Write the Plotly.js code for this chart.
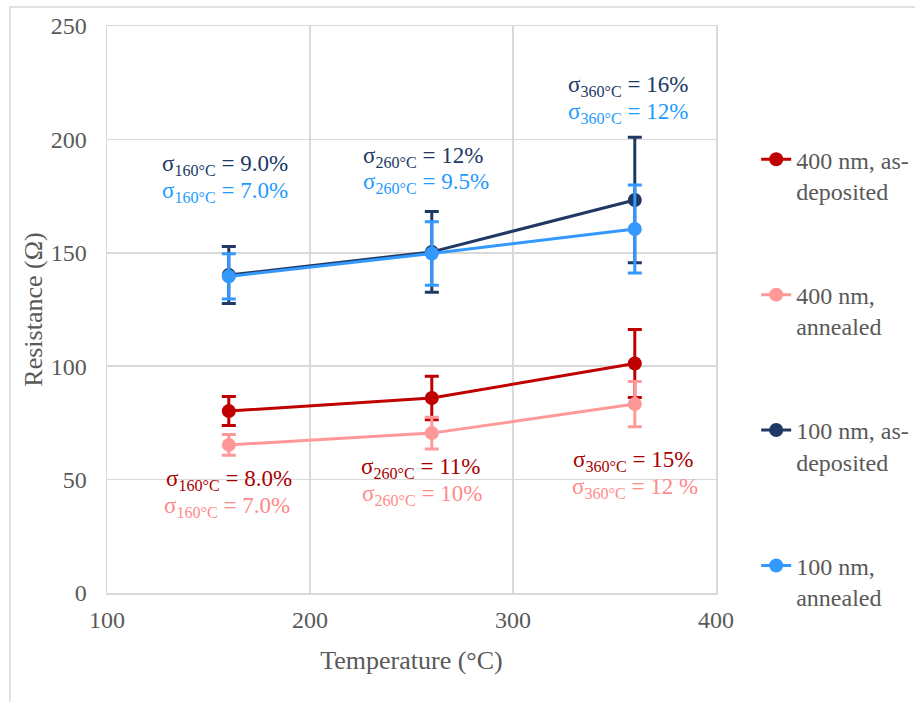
<!DOCTYPE html>
<html>
<head>
<meta charset="utf-8">
<script src="https://cdn.plot.ly/plotly-3.0.1.min.js"></script>
<style>html,body{margin:0;padding:0;background:#fff;}#chart{width:915px;height:702px;}</style>
</head>
<body>
<div id="chart"></div>
<script>
var temperatures = [160, 260, 360];

var names = ["400 nm, as-<br>deposited", "400 nm,<br>annealed", "100 nm, as-<br>deposited", "100 nm,<br>annealed"];

var r400asdep = [80.2, 86.0, 101.2];
var r400ann = [65.3, 70.5, 83.3];
var r100asdep = [140.2, 150.4, 173.3];
var r100ann = [139.6, 149.7, 160.5];

var e400asdep = [6.4, 9.6, 15.0];
var e400ann = [4.6, 7.0, 10.0];
var e100asdep = [12.6, 17.8, 27.7];
var e100ann = [10.0, 14.0, 19.4];

var sig400asdep = ["8.0%", "11%", "15%"];
var sig400ann = ["7.0%", "10%", "12 %"];
var sig100asdep = ["9.0%", "12%", "16%"];
var sig100ann = ["7.0%", "9.5%", "12%"];

var colors = ["#c00000", "#ff9999", "#203864", "#3399ff"];
var textColors = ["#a80000", "#ff8a8a", "#203864", "#1f9bff"];

var FONT = '"Liberation Serif", "Times New Roman", serif';

var series = [r400asdep, r400ann, r100asdep, r100ann];
var errs = [e400asdep, e400ann, e100asdep, e100ann];
var sigs = [sig400asdep, sig400ann, sig100asdep, sig100ann];

var traces = series.map(function (s, i) {
  return {
    x: temperatures, y: s, type: 'scatter', mode: 'lines+markers',
    name: names[i], legendgroup: 'g' + i,
    line: {color: colors[i], width: 3},
    marker: {color: colors[i], size: 14},
    error_y: {type: 'data', array: errs[i], visible: true, color: colors[i], thickness: 3, width: 7}
  };
});

// annotation offsets (in pixels) relative to each data point
var yshift = {
  0: [-69, -70, -98],
  1: [-62, -62, -84],
  2: [110, 95, 114],
  3: [84, 70, 116]
};
var xshift = {0: [0, -11, -2], 1: [-2, -10, 0], 2: [-4, -9, -7], 3: [-4, -6, -7]};

var annotations = [];
sigs.forEach(function (sarr, i) {
  sarr.forEach(function (txt, j) {
    annotations.push({
      x: temperatures[j], y: series[i][j], xref: 'x', yref: 'y',
      text: 'σ<sub>' + temperatures[j] + '°C</sub> = ' + txt,
      showarrow: false, xshift: xshift[i][j], yshift: yshift[i][j],
      font: {family: FONT, size: 23, color: textColors[i]}
    });
  });
});

var layout = {
  width: 915, height: 702,
  margin: {l: 107, r: 199, t: 26, b: 109, autoexpand: false},
  paper_bgcolor: '#ffffff', plot_bgcolor: '#ffffff',
  font: {family: FONT, size: 24, color: '#595959'},
  showlegend: true,
  legend: {
    x: 1.066, y: 0.804, xanchor: 'left', yanchor: 'top',
    tracegroupgap: 70, valign: 'top', traceorder: 'grouped',
    font: {family: FONT, size: 24, color: '#595959'},
    bgcolor: 'rgba(0,0,0,0)'
  },
  xaxis: {
    range: [100, 400], dtick: 100, tick0: 100,
    showgrid: true, gridcolor: '#d9d9d9', gridwidth: 1.5,
    showline: true, linecolor: '#d9d9d9', linewidth: 1.5, mirror: true,
    zeroline: false, ticks: '', ticklabelstandoff: 5,
    tickfont: {family: FONT, size: 24, color: '#595959'},
    title: {text: 'Temperature (°C)', font: {family: FONT, size: 26, color: '#595959'}, standoff: 18}
  },
  yaxis: {
    range: [0, 250], dtick: 50,
    showgrid: true, gridcolor: '#d9d9d9', gridwidth: 1.5,
    showline: true, linecolor: '#d9d9d9', linewidth: 1.5, mirror: true,
    zeroline: false, ticks: '', ticklabelstandoff: 14,
    tickfont: {family: FONT, size: 24, color: '#595959'},
    title: {text: 'Resistance (Ω)', font: {family: FONT, size: 26, color: '#595959'}, standoff: 0}
  },
  annotations: annotations,
  shapes: [{
    type: 'rect', xref: 'paper', yref: 'paper', layer: 'below',
    x0: (10 - 107) / 609, x1: (930 - 107) / 609,
    y0: (593 - 720) / 567, y1: 1 + (26 - 7) / 567,
    line: {color: '#d9d9d9', width: 1.5}, fillcolor: 'rgba(0,0,0,0)'
  }]
};

Plotly.newPlot('chart', traces, layout, {displayModeBar: false, staticPlot: true});
</script>
</body>
</html>
